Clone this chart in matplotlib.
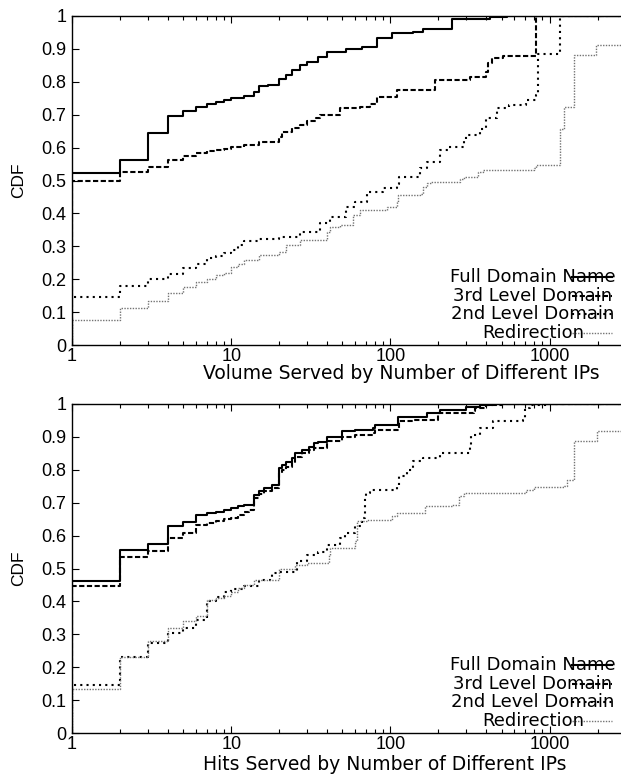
import numpy as np
import matplotlib
matplotlib.use('Agg')
import matplotlib.pyplot as plt

plt.rcParams['font.family'] = ['Liberation Sans', 'DejaVu Sans']
plt.rcParams['font.size'] = 13
WIDE = ['DejaVu Sans']

# --- volume served: step points (number of IPs, CDF) ---
vol_full_x = [1, 2, 3, 4, 5, 6, 7, 8, 9, 10, 12, 14, 15, 17, 20, 22, 24, 27, 30, 35, 40, 53, 66, 82, 103, 138, 160, 245, 420, 540]
vol_full_y = [0.522, 0.561, 0.645, 0.696, 0.712, 0.722, 0.732, 0.74, 0.745, 0.75, 0.757, 0.77, 0.787, 0.79, 0.81, 0.82, 0.835, 0.85, 0.86, 0.875, 0.89, 0.90, 0.907, 0.932, 0.947, 0.952, 0.96, 0.99, 0.997, 1.0]

vol_3rd_x = [1, 2, 3, 4, 5, 6, 7, 8, 9, 10, 12, 15, 20, 21, 24, 27, 30, 34, 36, 48, 64, 75, 82, 110, 190, 315, 400, 410, 433, 510, 818]
vol_3rd_y = [0.50, 0.527, 0.542, 0.562, 0.575, 0.585, 0.59, 0.593, 0.597, 0.603, 0.608, 0.618, 0.633, 0.648, 0.66, 0.669, 0.68, 0.689, 0.70, 0.719, 0.724, 0.734, 0.755, 0.775, 0.805, 0.816, 0.831, 0.856, 0.871, 0.877, 1.0]

vol_2nd_x = [1, 2, 3, 4, 5, 6, 7, 8, 9, 10, 11, 12, 15, 20, 27, 36, 42, 53, 60, 71, 90, 110, 114, 153, 169, 204, 230, 292, 300, 364, 400, 465, 560, 715, 825, 840, 850, 1156]
vol_2nd_y = [0.145, 0.179, 0.20, 0.216, 0.233, 0.246, 0.263, 0.27, 0.279, 0.289, 0.304, 0.315, 0.322, 0.329, 0.344, 0.37, 0.39, 0.42, 0.436, 0.466, 0.478, 0.49, 0.511, 0.537, 0.557, 0.593, 0.603, 0.623, 0.638, 0.658, 0.689, 0.719, 0.729, 0.745, 0.76, 0.775, 0.885, 1.0]

vol_redir_x = [1, 2, 3, 4, 5, 6, 7, 8, 9, 10, 11, 12, 15, 20, 22, 27, 40, 42, 48, 58, 64, 95, 110, 112, 153, 160, 169, 180, 275, 290, 354, 380, 800, 820, 1170, 1240, 1430, 1970]
vol_redir_y = [0.076, 0.113, 0.135, 0.157, 0.175, 0.192, 0.20, 0.213, 0.22, 0.236, 0.245, 0.258, 0.274, 0.284, 0.304, 0.319, 0.344, 0.36, 0.365, 0.395, 0.41, 0.42, 0.436, 0.456, 0.46, 0.48, 0.493, 0.496, 0.505, 0.511, 0.527, 0.532, 0.537, 0.547, 0.658, 0.724, 0.88, 0.912]

# --- hits served ---
hit_full_x = [1, 2, 3, 4, 5, 6, 7, 8, 9, 10, 11, 12, 14, 15, 16, 18, 20, 21, 22, 24, 25, 28, 31, 33, 35, 40, 50, 60, 78, 80, 111, 169, 204, 300, 364, 440]
hit_full_y = [0.463, 0.557, 0.574, 0.628, 0.641, 0.662, 0.669, 0.672, 0.679, 0.685, 0.69, 0.694, 0.724, 0.735, 0.745, 0.755, 0.805, 0.815, 0.825, 0.835, 0.85, 0.86, 0.87, 0.88, 0.885, 0.90, 0.917, 0.922, 0.927, 0.937, 0.96, 0.973, 0.983, 0.99, 0.996, 1.0]

hit_3rd_x = [1, 2, 3, 4, 5, 6, 7, 8, 9, 10, 11, 12, 13, 14, 15, 16, 18, 20, 21, 22, 24, 25, 28, 31, 33, 40, 50, 60, 78, 80, 114, 140, 198, 200, 337, 340, 400, 500]
hit_3rd_y = [0.446, 0.534, 0.552, 0.593, 0.607, 0.632, 0.638, 0.643, 0.65, 0.655, 0.663, 0.672, 0.679, 0.714, 0.725, 0.735, 0.745, 0.79, 0.80, 0.81, 0.82, 0.84, 0.85, 0.86, 0.866, 0.887, 0.90, 0.906, 0.912, 0.922, 0.947, 0.952, 0.957, 0.973, 0.978, 0.988, 0.998, 1.0]

hit_2nd_x = [1, 2, 3, 4, 5, 6, 7, 8, 9, 10, 12, 15, 18, 20, 26, 30, 35, 40, 48, 52, 60, 66, 69, 70, 75, 110, 114, 127, 138, 160, 204, 315, 320, 364, 440, 680, 700, 750, 1000]
hit_2nd_y = [0.147, 0.231, 0.273, 0.303, 0.32, 0.343, 0.40, 0.413, 0.428, 0.438, 0.448, 0.465, 0.486, 0.49, 0.522, 0.542, 0.551, 0.572, 0.593, 0.608, 0.628, 0.653, 0.714, 0.73, 0.74, 0.75, 0.78, 0.80, 0.826, 0.836, 0.851, 0.876, 0.907, 0.927, 0.947, 0.952, 0.988, 0.996, 1.0]

hit_redir_x = [1, 2, 3, 4, 5, 6, 7, 8, 9, 10, 11, 12, 14, 20, 25, 30, 41, 42, 60, 62, 71, 103, 110, 164, 245, 271, 290, 715, 800, 1240, 1290, 1430, 1980]
hit_redir_y = [0.135, 0.232, 0.28, 0.319, 0.341, 0.355, 0.405, 0.41, 0.415, 0.43, 0.44, 0.45, 0.466, 0.50, 0.51, 0.517, 0.542, 0.562, 0.583, 0.643, 0.648, 0.659, 0.669, 0.689, 0.694, 0.72, 0.73, 0.74, 0.747, 0.75, 0.77, 0.888, 0.917]

labels = ['Full Domain Name', '3rd Level Domain', '2nd Level Domain', 'Redirection']
styles = [
    dict(color='black', lw=1.5, ls='-'),
    dict(color='black', lw=1.5, ls=(0, (2.5, 1.2))),
    dict(color='black', lw=1.5, ls=(0, (1, 2))),
    dict(color='0.45', lw=1.0, ls=(0, (1, 1))),
]

XMAX = 3200

fig = plt.figure(figsize=(6.21, 7.77), dpi=100)
ax1 = fig.add_axes([72/621, 1-345/777, 558/621, 329/777])
ax2 = fig.add_axes([72/621, 1-733/777, 558/621, 329/777])


def draw_panel(ax, series, xlabel, label_y):
    for (xs, ys), st in zip(series, styles):
        xs = np.r_[1, xs, XMAX]
        ys = np.r_[0, ys, ys[-1]]
        ax.step(xs, ys, where='post', **st)
    ax.set_xscale('log')
    ax.set_xlim(1, XMAX)
    ax.set_ylim(0, 1)
    ax.set_xticks([1, 10, 100, 1000], labels=['1', '10', '100', '1000'])
    ax.set_yticks(np.round(np.arange(0, 1.01, 0.1), 1),
                  labels=['0'] + ['%.1f' % v for v in np.arange(0.1, 0.95, 0.1)] + ['1'])
    ax.tick_params(which='both', direction='in', top=True, right=False)
    ax.tick_params(which='major', length=5, width=0.8, pad=2)
    ax.tick_params(which='minor', length=3, width=0.8)
    ax.tick_params(axis='y', pad=4)
    for s in ax.spines.values():
        s.set_linewidth(1.0)
    ax.spines['right'].set_visible(False)
    ax.set_ylabel('CDF', fontsize=12.5)
    ax.yaxis.set_label_coords(-0.082, 0.5)
    ax.set_xlabel(xlabel, fontsize=13.5, family=WIDE, ha='left')
    ax.xaxis.set_label_coords(0.235, label_y)

    # key: centred text with the line sample drawn across its end
    for i, (lab, st) in enumerate(zip(labels, styles)):
        yy = 0.206 - i * 0.0565
        ax.text(0.826, yy, lab, ha='center', va='center', fontsize=13,
                family=WIDE, transform=ax.transAxes)
        ax.plot([0.896, 0.968], [yy, yy], transform=ax.transAxes, **st)


draw_panel(ax1, [(vol_full_x, vol_full_y), (vol_3rd_x, vol_3rd_y),
                 (vol_2nd_x, vol_2nd_y), (vol_redir_x, vol_redir_y)],
           'Volume Served by Number of Different IPs', -0.058)
draw_panel(ax2, [(hit_full_x, hit_full_y), (hit_3rd_x, hit_3rd_y),
                 (hit_2nd_x, hit_2nd_y), (hit_redir_x, hit_redir_y)],
           'Hits Served by Number of Different IPs', -0.066)

fig.savefig('out.png', dpi=100)
